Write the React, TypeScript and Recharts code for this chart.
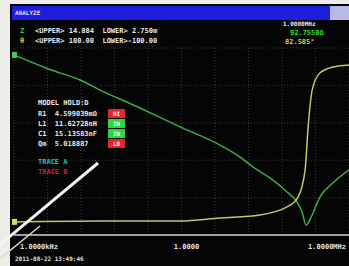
import { CartesianGrid, Line, LineChart, XAxis, YAxis } from "recharts"

// x in screen divisions (0..10), y in divisions (0..10)
const IMPEDANCE_X = [0, 1.07, 1.97, 2.57, 3.76, 4.96, 6.15, 6.75, 7.13, 7.64, 8.15, 8.45, 8.6, 8.72, 8.9, 9.13, 9.52, 10]
const IMPEDANCE_Y = [9.63, 8.85, 8.29, 7.75, 6.79, 5.78, 4.81, 4.17, 3.64, 3.05, 2.3, 1.76, 1.23, 0.53, 1.07, 2.03, 2.78, 3.48]

const PHASE_X = [0, 2.57, 4.96, 6.15, 7.34, 8.15, 8.48, 8.69, 8.78, 8.9, 9.13, 9.52, 10]
const PHASE_Y = [0.7, 0.75, 0.75, 0.91, 1.07, 1.5, 2.03, 3.48, 5.78, 7.75, 8.66, 8.98, 9.09]

const GRID_TICKS = [0, 1, 2, 3, 4, 5, 6, 7, 8, 9, 10]
const LABEL_TICKS = [0, 5, 10]
const X_TICK_LABELS = ["1.0000kHz", "1.0000", "1.0000MHz"]

const HEADER_ROWS = [
  { sym: "Z", color: "#3fd04a", text: "<UPPER> 14.884  LOWER> 2.750m" },
  { sym: "θ", color: "#d8d040", text: "<UPPER> 100.00  LOWER>-100.00" },
]

const MODEL_ROWS = [
  { text: "R1  4.599039mΩ", badge: "HI", bg: "#e0282a" },
  { text: "L1  11.62728nH", badge: "IN", bg: "#2ed83a" },
  { text: "C1  15.13583nF", badge: "IN", bg: "#2ed83a" },
  { text: "Qm  5.018887", badge: "LO", bg: "#e0282a" },
]

const impedance = IMPEDANCE_X.map((x, i) => ({ x, y: IMPEDANCE_Y[i] }))
const phase = PHASE_X.map((x, i) => ({ x, y: PHASE_Y[i] }))

const mono = "'DejaVu Sans Mono', monospace"

function FreqTick(props: any) {
  const { x, y, payload } = props
  const idx = LABEL_TICKS.indexOf(payload.value)
  if (idx < 0) return <g />
  const anchor = idx === 0 ? "start" : idx === 1 ? "middle" : "end"
  const dx = idx === 0 ? 6 : idx === 2 ? -3 : 5
  return (
    <text x={x + dx} y={y + 6} textAnchor={anchor} fill="#e6e6e6" fontSize={7} fontWeight="bold" fontFamily={mono}>
      {X_TICK_LABELS[idx]}
    </text>
  )
}

function startDot(color: string) {
  return (props: any) => {
    const { cx, cy, index } = props
    if (index !== 0) return <g key={`d${index}`} />
    return <rect key={`d${index}`} x={cx - 2} y={cy - 3} width={5} height={6} fill={color} />
  }
}

const txt = (x: number, y: number, color: string, extra: any = {}) => ({
  position: "absolute" as const,
  left: x,
  top: y,
  color,
  fontFamily: mono,
  fontSize: 7,
  fontWeight: "bold" as const,
  lineHeight: "8px",
  whiteSpace: "pre" as const,
  ...extra,
})

export default function App() {
  return (
    <div style={{ position: "fixed", left: 0, top: 0, width: 349, height: 266, background: "#eeeee8", overflow: "hidden" }}>
      <div style={{ position: "absolute", left: 10, top: 4, right: 0, bottom: 0, background: "#050505" }} />
      <div style={{ position: "absolute", left: 12, top: 6, width: 318, height: 14, background: "#1e1edc" }} />
      <div style={{ position: "absolute", left: 330, top: 6, width: 19, height: 14, background: "#b8b8e8" }} />
      <div style={txt(15, 9, "#dcdcf8", { fontSize: 6 })}>ANALYZE</div>

      {HEADER_ROWS.map((r, i) => (
        <div key={r.sym}>
          <div style={txt(20, 27 + i * 10, r.color)}>{r.sym}</div>
          <div style={txt(35, 27 + i * 10, "#e8e8e8")}>{r.text}</div>
        </div>
      ))}
      <div style={txt(283, 20, "#e8e8e8", { fontSize: 6 })}>1.0000MHz</div>
      <div style={txt(290, 29, "#30e030")}>92.7550Ω</div>
      <div style={txt(285, 38, "#d8c840")}>82.585°</div>

      <div style={{ position: "absolute", left: 0, top: 0 }}>
        <LineChart width={349} height={266} margin={{ top: 48, right: 0, left: 14, bottom: 0 }}>
          <CartesianGrid stroke="#363636" strokeDasharray="1 2" />
          <XAxis
            type="number"
            dataKey="x"
            domain={[0, 10]}
            ticks={GRID_TICKS}
            height={31}
            axisLine={{ stroke: "#a0a0a0", strokeWidth: 2 }}
            tickLine={false}
            tick={<FreqTick />}
            interval={0}
          />
          <YAxis hide type="number" domain={[0, 10]} ticks={GRID_TICKS} />
          <Line
            data={impedance}
            dataKey="y"
            type="monotone"
            stroke="#3cae44"
            strokeWidth={1.5}
            dot={startDot("#4cc850")}
            isAnimationActive={false}
          />
          <Line
            data={phase}
            dataKey="y"
            type="monotone"
            stroke="#c8c468"
            strokeWidth={1.5}
            dot={startDot("#d8d860")}
            isAnimationActive={false}
          />
        </LineChart>
      </div>

      <div style={txt(38, 99, "#e8e8e8")}>MODEL HOLD:D</div>
      {MODEL_ROWS.map((r, i) => (
        <div key={r.text}>
          <div style={txt(38, 110 + i * 10, "#e8e8e8")}>{r.text}</div>
          <div
            style={txt(108, 109 + i * 10, "#f4f4f4", {
              width: 17,
              height: 9,
              lineHeight: "9px",
              textAlign: "center",
              background: r.bg,
              fontSize: 6,
            })}
          >
            {r.badge}
          </div>
        </div>
      ))}
      <div style={txt(38, 158, "#20c0c0")}>TRACE A</div>
      <div style={txt(38, 168, "#d02040")}>TRACE B</div>

      <div style={txt(15, 255, "#e0e0e0", { fontSize: 6 })}>2011-08-22 13:49:46</div>

      <svg width={349} height={266} style={{ position: "absolute", left: 0, top: 0 }}>
        <line x1={-4} y1={248} x2={98} y2={163} stroke="#f4f4f4" strokeWidth={3} />
        <line x1={-4} y1={262} x2={40} y2={226} stroke="#d8d8d8" strokeWidth={1.5} />
      </svg>
    </div>
  )
}
